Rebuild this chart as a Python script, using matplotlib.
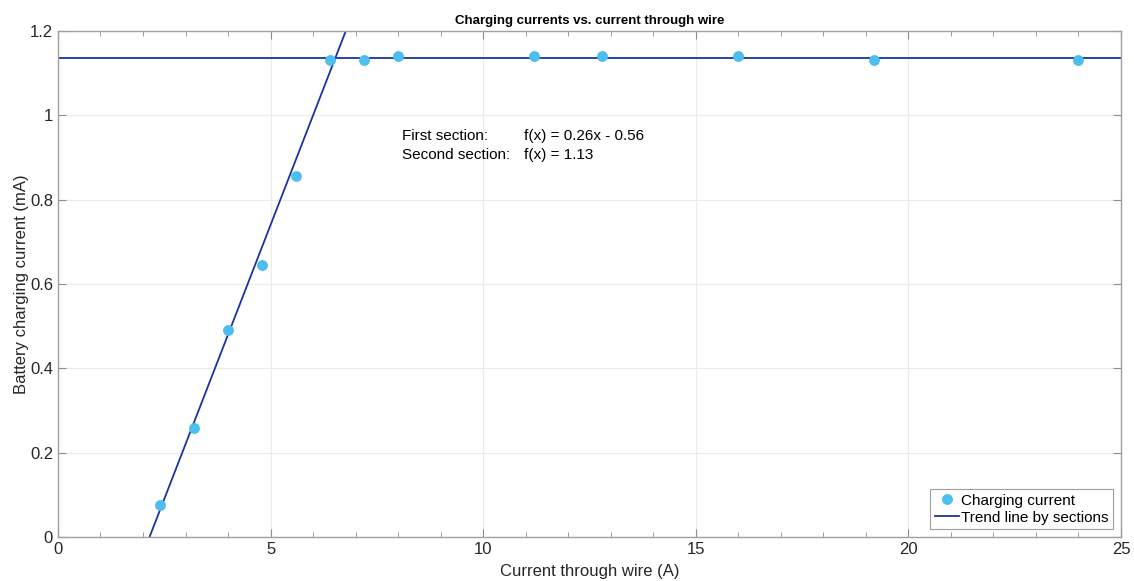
import numpy as np
import matplotlib.pyplot as plt
from matplotlib.ticker import MultipleLocator

plt.rcParams['font.family'] = ['Liberation Sans', 'DejaVu Sans']

# measured data
wire_current = [2.4, 3.2, 4.0, 4.8, 5.6, 6.4, 7.2, 8.0, 11.2, 12.8, 16.0, 19.2, 24.0]
charge_current = [0.077, 0.258, 0.49, 0.645, 0.856, 1.131, 1.131, 1.14, 1.14, 1.14, 1.14, 1.131, 1.131]

# trend line by sections
slope = 0.26
offset = -0.56
plateau = 1.135
x_fit = [-offset / slope, (1.25 - offset) / slope]

fig = plt.figure(figsize=(11.34, 5.81), dpi=100)
ax = fig.add_axes([0.0511, 0.0757, 0.9374, 0.8709])

ax.plot(wire_current, charge_current, 'o', color='#4dbeee', markersize=6.8,
        label='Charging current', zorder=3)
ax.plot(x_fit, [slope * x + offset for x in x_fit], '-',
        color='#1b33a0', lw=1.3, label='Trend line by sections')
ax.axhline(plateau, color='#1b33a0', lw=1.3)

ax.text(8.09, 0.951, 'First section:', fontsize=11, va='center')
ax.text(10.95, 0.951, 'f(x) = 0.26x - 0.56', fontsize=11, va='center')
ax.text(8.09, 0.906, 'Second section:', fontsize=11, va='center')
ax.text(10.95, 0.906, 'f(x) = 1.13', fontsize=11, va='center')

ax.set_xlim([0, 25])
ax.set_ylim([0, 1.2])
ax.xaxis.set_major_locator(MultipleLocator(5))
ax.xaxis.set_minor_locator(MultipleLocator(1))
ax.set_yticks([0, 0.2, 0.4, 0.6, 0.8, 1, 1.2], ['0', '0.2', '0.4', '0.6', '0.8', '1', '1.2'])
ax.tick_params(which='both', direction='in', top=True, right=True, colors='#8c8c8c',
               labelcolor='#262626', labelsize=12)
ax.tick_params(which='major', length=6)
ax.tick_params(which='minor', length=3.5)
ax.grid(True, which='major', color='#ebebeb', lw=0.8)
ax.set_axisbelow(True)
for s in ax.spines.values():
    s.set_color('#a0a0a0')
    s.set_linewidth(1.0)

ax.set_xlabel('Current through wire (A)', fontsize=12, color='#262626', labelpad=5)
ax.set_ylabel('Battery charging current (mA)', fontsize=12, color='#262626', labelpad=1)
ax.set_title('Charging currents vs. current through wire', fontsize=9.5,
             fontweight='bold', pad=5)

leg = ax.legend(loc='lower right', fontsize=11, fancybox=False, framealpha=1,
                edgecolor='#a0a0a0', handlelength=1.6, handletextpad=0.15,
                borderpad=0.3, labelspacing=0.2, borderaxespad=0.5)
leg.get_frame().set_linewidth(0.8)

plt.savefig('out.png', dpi=100)
